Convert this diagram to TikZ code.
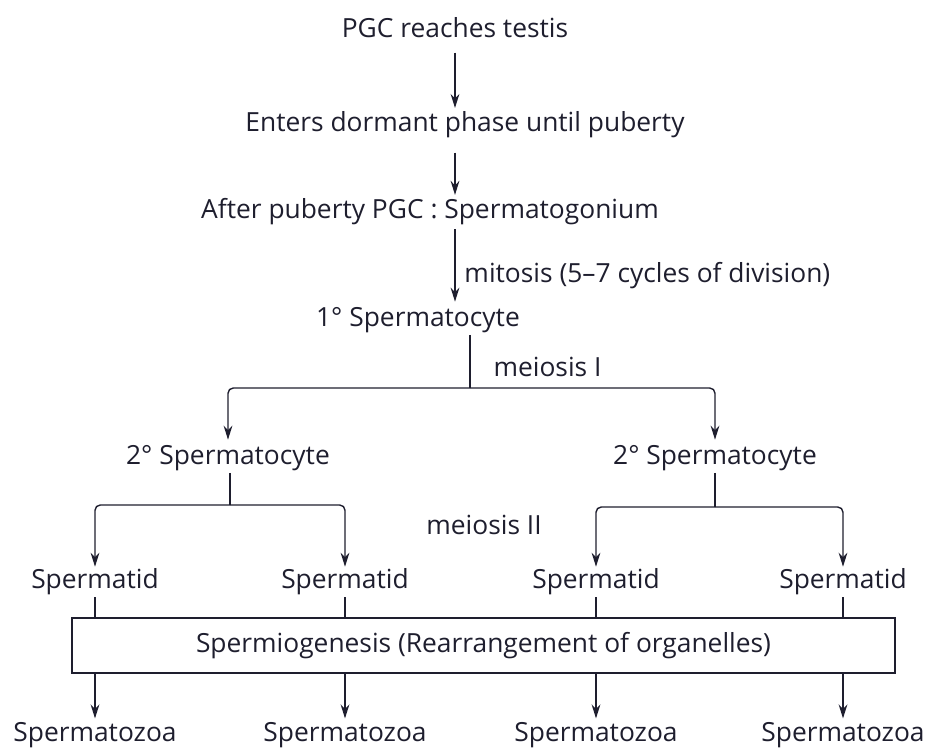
\documentclass[tikz,border=0pt]{standalone}
\usepackage{fontspec}
\setmainfont{Open Sans}
\usetikzlibrary{arrows.meta}
\definecolor{ink}{HTML}{1E1E2E}
\tikzset{
  lbl/.style={font=\fontsize{15}{17}\selectfont, text=ink, inner sep=1pt},
  flow/.style={draw=ink, thick, -{Stealth[length=8pt,width=5pt]}},
  link/.style={draw=ink, thick, rounded corners=3pt},
  stage/.style={draw=ink, line width=1pt, minimum width=16.46cm, minimum height=1.1cm}
}

\begin{document}
\begin{tikzpicture}[x=0.02cm,y=-0.02cm]
	    \useasboundingbox (0,0) rectangle (932,749);
	    % main line
	    \node[lbl] (pgc) at (455,28) {PGC reaches testis};
	    \node[lbl] (dorm) at (465,125) {Enters dormant phase until puberty};
	    \node[lbl] (gon) at (430,212) {After puberty PGC : Spermatogonium};
	    \node[lbl] (pri) at (418,320) {1° Spermatocyte};
	    \draw[flow, shorten <=7pt, shorten >=1pt] (pgc.south) -- (pgc.south |- dorm.north);
	    \draw[flow, shorten <=7pt, shorten >=1pt] (dorm.south -| pgc.south) -- (gon.north -| pgc.south);
	    \draw[flow, shorten <=1pt, shorten >=2pt] (gon.south -| pgc.south) -- (pri.north -| pgc.south)
	        node[lbl, pos=0.62, right=4pt] (mit) {mitosis (5–7 cycles of division)};
	    % meiosis I
	    \coordinate (split1) at (470,388);
	    \node[lbl] (sec1) at (228,458) {2° Spermatocyte};
	    \node[lbl] (sec2) at (715,458) {2° Spermatocyte};
	    \draw[link] (pri.south -| split1) -- (split1)
	        node[lbl, pos=0.6, right=12pt] (mei1) {meiosis I};
	    \draw[flow, link] (split1) -| ([yshift=2pt]sec1.north);
	    \draw[flow, link] (split1) -| ([yshift=2pt]sec2.north);
	    % meiosis II
	    \coordinate (split2) at (230,505);
	    \coordinate (split3) at (715,507);
	    \node[lbl] (mei2) at (484,525) {meiosis II};
	    \node[lbl] (tid1) at (95,582) {Spermatid};
	    \node[lbl] (tid2) at (345,582) {Spermatid};
	    \node[lbl] (tid3) at (596,582) {Spermatid};
	    \node[lbl] (tid4) at (843,582) {Spermatid};
	    \draw[link] (sec1.south -| split2) -- (split2);
	    \draw[link] (sec2.south -| split3) -- (split3);
	    \draw[flow, link] (split2) -| (tid1.north);
	    \draw[flow, link] (split2) -| (tid2.north);
	    \draw[flow, link] (split3) -| (tid3.north);
	    \draw[flow, link] (split3) -| (tid4.north);
	    % spermiogenesis
	    \node[lbl, stage] (box) at (483.5,645.5) {Spermiogenesis (Rearrangement of organelles)};
	    \foreach \i in {1,...,4}{
	        \node[lbl] (zoa\i) at (tid\i |- 0,735) {Spermatozoa};
	        \draw[link] (tid\i.south) -- (tid\i.south |- box.north);
	        \draw[flow, shorten >=1pt] (tid\i.south |- box.south) -- (zoa\i.north);
	    }
	\end{tikzpicture}
\end{document}
